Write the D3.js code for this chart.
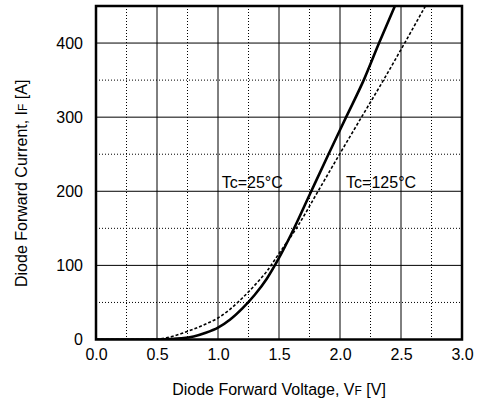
<!DOCTYPE html>
<html><head><meta charset="utf-8">
<script src="https://cdn.jsdelivr.net/npm/d3@7"></script>
<style>body{margin:0;background:#fff}svg{font-family:"Liberation Sans",Arial,sans-serif}</style>
</head><body><svg id="c" width="480" height="405"></svg>
<script>
const xTicks=[0,0.5,1.0,1.5,2.0,2.5,3.0];
const yTicks=[0,100,200,300,400];
const v25=[0,0.5,0.6,0.7,0.8,0.9,1.0,1.1,1.2,1.3,1.4,1.5,1.6,1.75,1.9,2.05,2.2,2.32,2.45];
const i25=[0,0,0.5,1.5,4,9,16,27,42,60,82,110,142,195,248,300,352,400,450];
const v125=[0,0.45,0.5,0.6,0.7,0.8,0.9,1.0,1.1,1.2,1.3,1.4,1.5,1.65,1.82,2.0,2.18,2.36,2.53,2.7];
const i125=[0,0,0.5,3,8,14,21,29,41,56,73,92,116,152,200,251,301,351,400,450];
const labels=["Tc=25°C","Tc=125°C"];

const svg=d3.select("#c");
const L=96,R=462,T=6,B=339.5;
const x=d3.scaleLinear().domain([0,3]).range([L,R]);
const y=d3.scaleLinear().domain([0,450]).range([B,T]);
const g=svg.append("g");
// dotted grid
d3.range(0.25,3,0.5).forEach(v=>g.append("line").attr("x1",x(v)).attr("x2",x(v)).attr("y1",T).attr("y2",B).attr("stroke","#000").attr("stroke-width",1).attr("stroke-dasharray","1,2"));
d3.range(50,450,100).forEach(v=>g.append("line").attr("y1",y(v)).attr("y2",y(v)).attr("x1",L).attr("x2",R).attr("stroke","#000").attr("stroke-width",1).attr("stroke-dasharray","1,2"));
// solid grid
xTicks.slice(1,-1).forEach(v=>g.append("line").attr("x1",x(v)).attr("x2",x(v)).attr("y1",T).attr("y2",B).attr("stroke","#000").attr("stroke-width",1));
yTicks.slice(1).forEach(v=>g.append("line").attr("y1",y(v)).attr("y2",y(v)).attr("x1",L).attr("x2",R).attr("stroke","#000").attr("stroke-width",1));

svg.append("clipPath").attr("id","pc").append("rect").attr("x",L).attr("y",T).attr("width",R-L).attr("height",B-T);
const line=d3.line().x(d=>x(d[0])).y(d=>y(d[1])).curve(d3.curveMonotoneX);
svg.append("path").attr("clip-path","url(#pc)").attr("d",line(v125.map((v,i)=>[v,i125[i]]))).attr("fill","none").attr("stroke","#000").attr("stroke-width",1.6).attr("stroke-dasharray","3,2");
svg.append("path").attr("clip-path","url(#pc)").attr("d",line(v25.map((v,i)=>[v,i25[i]]))).attr("fill","none").attr("stroke","#000").attr("stroke-width",2.6);

// frame
svg.append("rect").attr("x",L).attr("y",T).attr("width",R-L).attr("height",B-T).attr("fill","none").attr("stroke","#000").attr("stroke-width",2.5);

const xa=svg.append("g").attr("transform",`translate(0,${B})`).call(d3.axisBottom(x).tickValues(xTicks).tickFormat(d3.format(".1f")).tickSize(0).tickPadding(9));
const ya=svg.append("g").attr("transform",`translate(${L},0)`).call(d3.axisLeft(y).tickValues(yTicks).tickSize(0).tickPadding(13));
[xa,ya].forEach(a=>{a.select(".domain").remove();a.selectAll("text").attr("font-size",16).attr("font-family","Liberation Sans, Arial, sans-serif").attr("fill","#000");});

svg.append("text").attr("x",x(1.03)).attr("y",y(200)-3).attr("font-size",16).text(labels[0]);
svg.append("text").attr("x",x(2.05)).attr("y",y(200)-3).attr("font-size",16).text(labels[1]);

const xt=svg.append("text").attr("x",279).attr("y",395).attr("text-anchor","middle").attr("font-size",16);
xt.append("tspan").text("Diode Forward Voltage, V");
xt.append("tspan").attr("font-size",12).text("F");
xt.append("tspan").text(" [V]");
const yt=svg.append("text").attr("transform",`translate(27,287) rotate(-90)`).attr("text-anchor","start").attr("font-size",16);
yt.append("tspan").text("Diode Forward Current, I");
yt.append("tspan").attr("font-size",12).text("F");
yt.append("tspan").text(" [A]");
</script></body></html>
